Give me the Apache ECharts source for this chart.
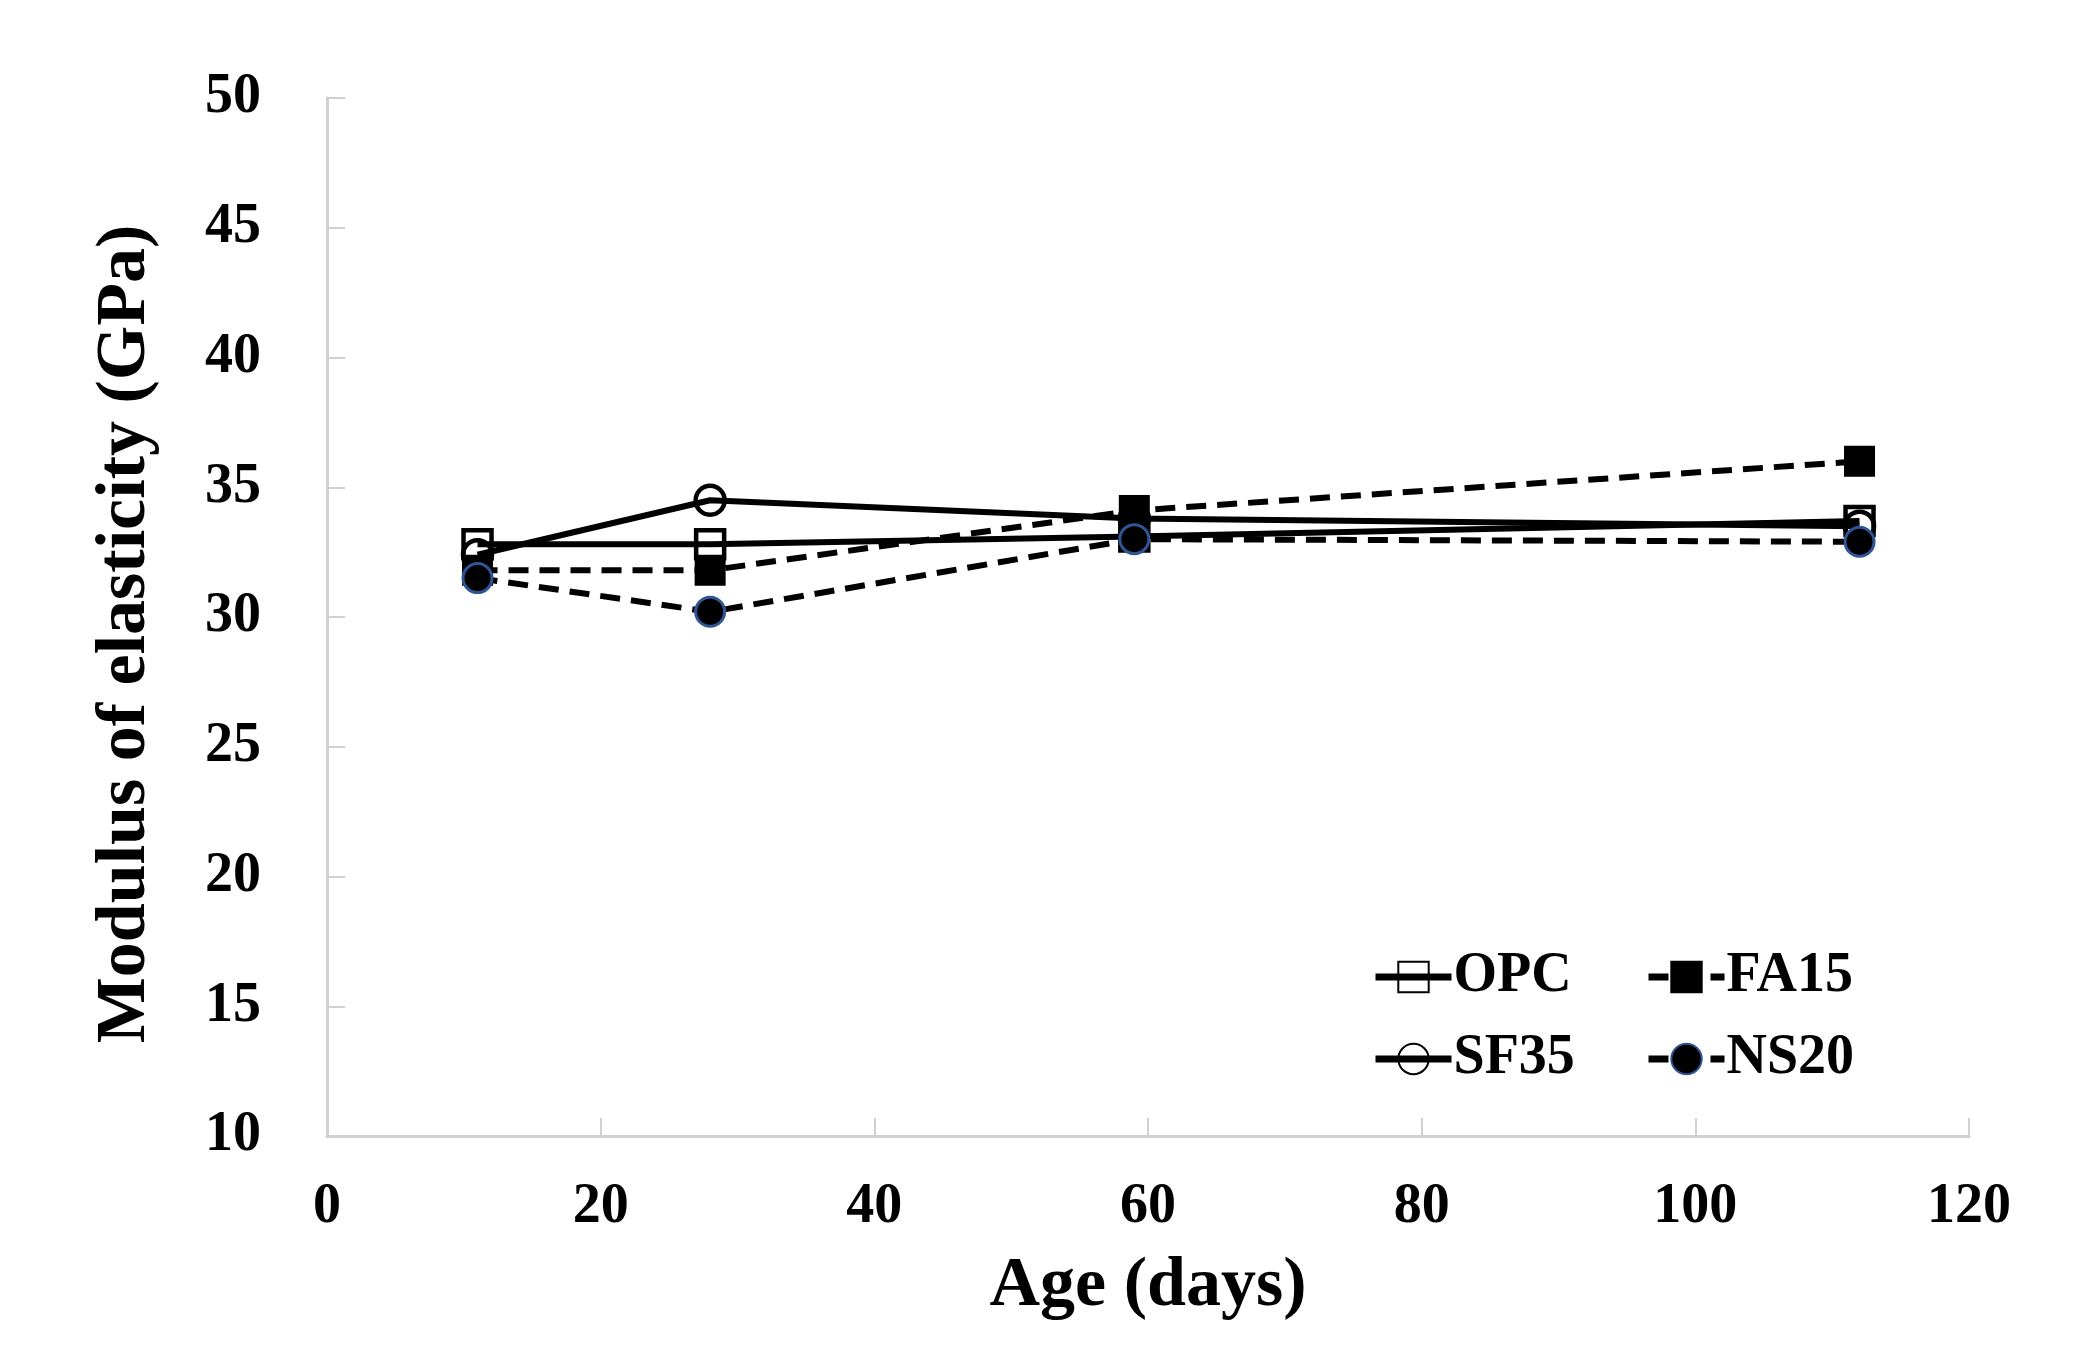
<!DOCTYPE html>
<html><head><meta charset="utf-8">
<script src="https://cdn.jsdelivr.net/npm/echarts@6/dist/echarts.min.js"></script>
<style>html,body{margin:0;padding:0;background:#fff}#c{width:2083px;height:1368px}</style>
</head><body><div id="c"></div>
<script>
const ages = [11, 28, 59, 112];
const opc = [32.8, 32.8, 33.1, 33.7];
const fa15 = [31.8, 31.8, 34.1, 36.0];
const sf35 = [32.4, 34.5, 33.8, 33.5];
const ns20 = [31.5, 30.2, 33.0, 32.9];
const legendOrder = ['OPC', 'FA15', 'SF35', 'NS20'];
const xTicks = {min: 0, max: 120, interval: 20};
const yTicks = {min: 10, max: 50, interval: 5};

const FONT = '"Liberation Serif", "Times New Roman", serif';
const pair = (xs, ys) => xs.map((x, i) => [x, ys[i]]);
const dash = [20, 11];
const clear = 'rgba(255,255,255,0)';
const legendText = {fontFamily: FONT, fontWeight: 'bold', fontSize: 56, color: '#000', padding: [0, 0, 0, -3]};
const legendBase = {orient: 'vertical', top: 949, padding: 0, itemWidth: 76, itemHeight: 38, itemGap: 26,
  lineStyle: {width: 7}, textStyle: legendText};

const chart = echarts.init(document.getElementById('c'));
chart.setOption({
  backgroundColor: '#fff',
  animation: false,
  grid: {left: 327, right: 114, top: 98, bottom: 232},
  xAxis: {
    type: 'value', min: xTicks.min, max: xTicks.max, interval: xTicks.interval,
    name: 'Age (days)', nameLocation: 'middle', nameGap: 116,
    nameTextStyle: {fontFamily: FONT, fontWeight: 'bold', fontSize: 70, color: '#000'},
    axisLine: {show: true, lineStyle: {color: '#d0d0d0', width: 3}},
    axisTick: {show: true, inside: true, length: 18, lineStyle: {color: '#d0d0d0', width: 2}},
    axisLabel: {fontFamily: FONT, fontWeight: 'bold', fontSize: 56, color: '#000', margin: 44},
    splitLine: {show: false}
  },
  yAxis: {
    type: 'value', min: yTicks.min, max: yTicks.max, interval: yTicks.interval,
    name: 'Modulus of elasticity (GPa)', nameLocation: 'middle', nameGap: 166,
    nameTextStyle: {fontFamily: FONT, fontWeight: 'bold', fontSize: 70, color: '#000', padding: [0, 34, 0, 0]},
    axisLine: {show: true, lineStyle: {color: '#d0d0d0', width: 3}},
    axisTick: {show: true, inside: true, length: 18, lineStyle: {color: '#d0d0d0', width: 2}},
    axisLabel: {fontFamily: FONT, fontWeight: 'bold', fontSize: 56, color: '#000', margin: 66},
    splitLine: {show: false}
  },
  legend: [
    Object.assign({}, legendBase, {left: 1372, data: [legendOrder[0], legendOrder[2]]}),
    Object.assign({}, legendBase, {left: 1645, data: [legendOrder[1], legendOrder[3]]})
  ],
  series: [
    {name: 'SF35', type: 'line', data: pair(ages, sf35), symbol: 'circle', symbolSize: 29,
     lineStyle: {color: '#000', width: 6, type: 'solid'},
     itemStyle: {color: clear, borderColor: '#000', borderWidth: 4.5}},
    {name: 'OPC', type: 'line', data: pair(ages, opc), symbol: 'rect', symbolSize: 28,
     lineStyle: {color: '#000', width: 6, type: 'solid'},
     itemStyle: {color: clear, borderColor: '#000', borderWidth: 4.5}},
    {name: 'FA15', type: 'line', data: pair(ages, fa15), symbol: 'rect', symbolSize: 29,
     lineStyle: {color: '#000', width: 6, type: dash},
     itemStyle: {color: '#000', borderColor: '#000', borderWidth: 2}},
    {name: 'NS20', type: 'line', data: pair(ages, ns20), symbol: 'circle', symbolSize: 29,
     lineStyle: {color: '#000', width: 6, type: dash},
     itemStyle: {color: '#000', borderColor: '#2f5597', borderWidth: 3}}
  ]
});
</script></body></html>
